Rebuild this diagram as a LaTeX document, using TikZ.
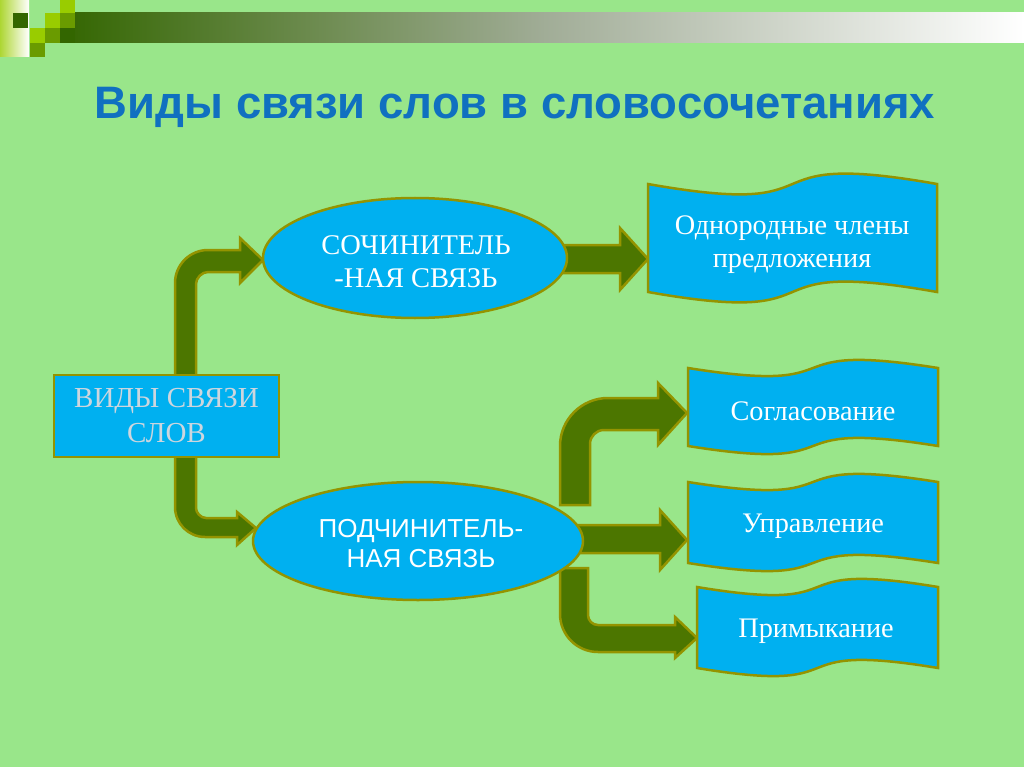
\documentclass[tikz,border=0pt]{standalone}
\usepackage{fontspec}
\setmainfont{Liberation Serif}
\newfontfamily\arial{Liberation Sans}
\usetikzlibrary{shapes.geometric}
\definecolor{bg}{RGB}{153,230,138}
\definecolor{boxfill}{RGB}{0,176,240}
\definecolor{olive}{RGB}{148,148,0}
\definecolor{arrowgreen}{RGB}{76,118,0}
\definecolor{titleblue}{RGB}{16,112,192}
\definecolor{dkgreen}{RGB}{51,102,0}
\definecolor{midgreen}{RGB}{106,155,0}
\definecolor{ylgreen}{RGB}{153,204,0}
\definecolor{greytext}{RGB}{205,214,222}
\definecolor{bargrey}{RGB}{160,172,150}
\tikzset{
  blockarrow/.style={fill=arrowgreen, draw=olive, line width=2.5pt, line join=miter},
  shapeborder/.style={fill=boxfill, draw=olive, line width=2.5pt},
  lbl/.style={align=center, inner sep=0pt, text=white},
  serifbig/.style={font=\fontsize{28.3}{33}\selectfont},
}
\begin{document}
\begin{tikzpicture}[x=1pt,y=-1pt]
\useasboundingbox (0,0) rectangle (1024,767);
\fill[bg] (0,0) rectangle (1024,767);
% top decoration
\shade[left color=dkgreen, right color=bargrey] (60,13) rectangle (542,43);
\shade[left color=bargrey, right color=white] (541,13) rectangle (1024,43);
\shade[left color=ylgreen!80, right color=white] (0,0) rectangle (29,57);
\fill[dkgreen] (13,13) rectangle (28,28);
\fill[ylgreen] (60,0) rectangle (75,13);
\fill[ylgreen] (45,13) rectangle (60,28);
\fill[midgreen] (60,13) rectangle (75,28);
\fill[ylgreen] (30,28) rectangle (45,43);
\fill[midgreen] (45,28) rectangle (60,43);
\fill[dkgreen] (60,28) rectangle (75,43);
\fill[midgreen] (30,43) rectangle (45,57);
% title
\node[font=\arial\bfseries\fontsize{45.5}{50}\selectfont, text=titleblue, inner sep=0pt] (title) at (515,107) {Виды связи слов в словосочетаниях};
% block arrows
\draw[blockarrow] (175,377) -- (175,283) .. controls (175,264.8) and (189.8,250) .. (208,250) -- (240,250) -- (240,238) -- (263,260) -- (240,283) -- (240,272) -- (208,272) .. controls (201.9,272) and (196,277.9) .. (196,284) -- (196,377) -- cycle;
\draw[blockarrow] (175,455) -- (175,507) .. controls (175,523.57) and (188.43,537) .. (205,537) -- (237,537) -- (237,545) -- (256,528) -- (237,512) -- (237,518) -- (206,518) .. controls (200.48,518) and (196,512.52) .. (196,508) -- (196,455) -- cycle;
\draw[blockarrow] (558,245) -- (620,245) -- (620,228) -- (648,259) -- (620,290) -- (620,273) -- (558,273) -- cycle;
\draw[blockarrow] (560,505) -- (560,446) .. controls (560,419.5) and (581.5,398) .. (608,398) -- (658,398) -- (658,383) -- (687,413) -- (658,445) -- (658,430) -- (604,430) .. controls (596.27,430) and (590,436.27) .. (590,444) -- (590,505) -- cycle;
\draw[blockarrow] (574,525) -- (660,525) -- (660,510) -- (687,540) -- (660,570) -- (660,553) -- (574,553) -- cycle;
\draw[blockarrow] (560,568) -- (560,614) .. controls (560,634.99) and (577.01,652) .. (598,652) -- (675,652) -- (675,658) -- (697,638) -- (675,617) -- (675,625) -- (598,625) .. controls (592.48,625) and (588,620.52) .. (588,615) -- (588,568) -- cycle;
% nodes
\node[shapeborder, rectangle, minimum width=225pt, minimum height=82pt, align=center, inner sep=0pt, text=greytext, font=\fontsize{29}{35}\selectfont] (root) at (166.5,416) {ВИДЫ СВЯЗИ\\СЛОВ};
\node[shapeborder, ellipse, minimum width=304pt, minimum height=120pt, inner sep=0pt] (coord) at (415,258) {};
\node[lbl, font=\fontsize{28.5}{33}\selectfont] (coordtext) at (416,262) {СОЧИНИТЕЛЬ\\-НАЯ СВЯЗЬ};
\node[shapeborder, ellipse, minimum width=330pt, minimum height=118pt, inner sep=0pt] (sub) at (418,541) {};
\node[lbl, font=\arial\fontsize{26}{30}\selectfont] (subtext) at (421,544) {ПОДЧИНИТЕЛЬ-\\НАЯ СВЯЗЬ};
% banners
\newcommand{\wavebanner}[5]{%
  \draw[shapeborder] (#1,#3) .. controls ({#1+0.7*(#2-#1)},{#3+#5}) and ({#1+0.3*(#2-#1)},{#3-#5}) .. (#2,#3)
    -- (#2,#4) .. controls ({#1+0.3*(#2-#1)},{#4-#5}) and ({#1+0.7*(#2-#1)},{#4+#5}) .. (#1,#4) -- cycle;}
\wavebanner{648}{937}{184}{292}{36}
\wavebanner{688}{938}{368}{446}{28}
\wavebanner{688}{938}{482}{563}{28}
\wavebanner{697}{938}{587}{668}{28}
\node[lbl, serifbig] (b1) at (792,245) {Однородные члены\\предложения};
\node[lbl, serifbig] (b2) at (813,411) {Согласование};
\node[lbl, serifbig] (b3) at (813,526) {Управление};
\node[lbl, serifbig] (b4) at (816,631) {Примыкание};
\end{tikzpicture}
\end{document}
